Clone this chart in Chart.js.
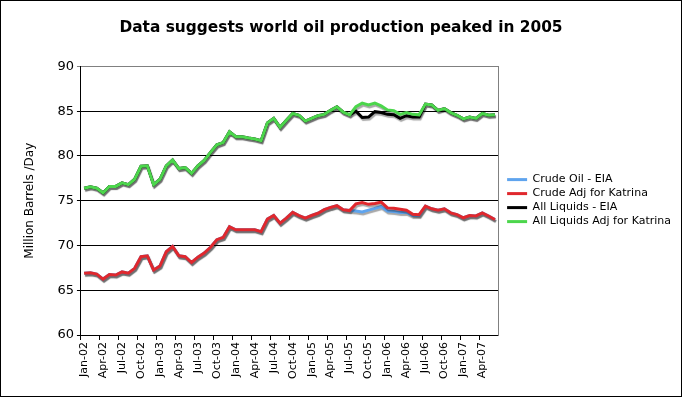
<!DOCTYPE html>
<html>
<head>
<meta charset="utf-8">
<script src="https://cdn.jsdelivr.net/npm/chart.js@4"></script>
<style>
  body { margin: 0; background: #fff; }
  #wrap { width: 682px; height: 397px; box-sizing: border-box; border: 1px solid #000; }
</style>
</head>
<body>
<div id="wrap"><canvas id="chart" width="680" height="395"></canvas></div>
<script>
// categories: Jan-02 .. Jun-07, monthly
const monthNames = ['Jan', 'Feb', 'Mar', 'Apr', 'May', 'Jun', 'Jul', 'Aug', 'Sep', 'Oct', 'Nov', 'Dec'];
const years = ['02', '03', '04', '05', '06', '07'];
const lastMonthIndex = 5; // Jun-07
const months = [];
years.forEach((y, yi) => {
  monthNames.forEach((m, mi) => {
    if (yi < years.length - 1 || mi <= lastMonthIndex) months.push(m + '-' + y);
  });
});

const crudeAdj = [
  66.9, 66.95, 66.8, 66.25, 66.75, 66.7, 67.05, 66.9, 67.45, 68.75,
  68.85, 67.25, 67.7, 69.3, 69.9, 68.85, 68.75, 68.1, 68.7, 69.15,
  69.8, 70.65, 70.9, 72.1, 71.75, 71.75, 71.75, 71.75, 71.55, 72.95,
  73.35, 72.5, 73.05, 73.7, 73.35, 73.05, 73.35, 73.6, 74.0, 74.25,
  74.45, 74.0, 73.9, 74.65, 74.8, 74.6, 74.7, 74.85, 74.2, 74.15,
  74.05, 73.95, 73.5, 73.45, 74.4, 74.1, 73.95, 74.1, 73.65, 73.45,
  73.1, 73.35, 73.3, 73.65, 73.3, 72.9
];
const crudeEIA = [
  66.9, 66.95, 66.8, 66.25, 66.75, 66.7, 67.05, 66.9, 67.45, 68.75,
  68.85, 67.25, 67.7, 69.3, 69.9, 68.85, 68.75, 68.1, 68.7, 69.15,
  69.8, 70.65, 70.9, 72.1, 71.75, 71.75, 71.75, 71.75, 71.55, 72.95,
  73.35, 72.5, 73.05, 73.7, 73.35, 73.05, 73.35, 73.6, 74.0, 74.25,
  74.45, 74.0, 73.9, 73.85, 73.75, 73.95, 74.15, 74.35, 73.85, 73.8,
  73.7, 73.7, 73.35, 73.35, 74.4, 74.1, 73.95, 74.1, 73.65, 73.45,
  73.1, 73.35, 73.3, 73.65, 73.3, 72.9
];
const liquidsAdj = [
  76.4, 76.55, 76.4, 75.9, 76.6, 76.6, 77.0, 76.8, 77.4, 78.85,
  78.9, 76.8, 77.4, 78.9, 79.55, 78.6, 78.7, 78.05, 78.9, 79.5,
  80.4, 81.25, 81.5, 82.7, 82.15, 82.15, 82.0, 81.9, 81.7, 83.7,
  84.2, 83.2, 84.0, 84.75, 84.55, 83.9, 84.2, 84.5, 84.65, 85.1,
  85.5, 84.9, 84.6, 85.5, 85.9, 85.7, 85.9, 85.6, 85.15, 85.05,
  84.65, 84.85, 84.65, 84.6, 85.8, 85.7, 85.1, 85.3, 84.85, 84.55,
  84.15, 84.35, 84.2, 84.75, 84.55, 84.6
];
const liquidsEIA = [
  76.4, 76.55, 76.4, 75.9, 76.6, 76.6, 77.0, 76.8, 77.4, 78.85,
  78.9, 76.8, 77.4, 78.9, 79.55, 78.6, 78.7, 78.05, 78.9, 79.5,
  80.4, 81.25, 81.5, 82.7, 82.15, 82.15, 82.0, 81.9, 81.7, 83.7,
  84.2, 83.2, 84.0, 84.75, 84.55, 83.9, 84.2, 84.5, 84.65, 85.1,
  85.5, 84.9, 84.6, 85.0, 84.3, 84.35, 84.95, 84.85, 84.65, 84.6,
  84.2, 84.5, 84.35, 84.35, 85.8, 85.7, 85.1, 85.3, 84.85, 84.55,
  84.15, 84.35, 84.2, 84.75, 84.55, 84.6
];

const FONT = 'DejaVu Sans';

// excel-like drop shadow under each line
const lineShadow = {
  id: 'lineShadow',
  beforeDatasetDraw(chart) {
    const ctx = chart.ctx;
    ctx.save();
    ctx.shadowColor = 'rgba(0,0,0,0.35)';
    ctx.shadowOffsetX = 1;
    ctx.shadowOffsetY = 2;
    ctx.shadowBlur = 1;
  },
  afterDatasetDraw(chart) {
    chart.ctx.restore();
  }
};

function series(label, data, color, order) {
  return {
    label: label,
    data: data,
    borderColor: color,
    backgroundColor: color,
    borderWidth: 3,
    pointRadius: 0,
    tension: 0,
    fill: false,
    order: order
  };
}

new Chart(document.getElementById('chart'), {
  type: 'line',
  data: {
    labels: months,
    datasets: [
      series('Crude Oil - EIA', crudeEIA, '#5fa4ee', 4),
      series('Crude Adj for Katrina', crudeAdj, '#e0282d', 3),
      series('All Liquids - EIA', liquidsEIA, '#000000', 2),
      series('All Liquids Adj for Katrina', liquidsAdj, '#4cd64c', 1)
    ]
  },
  options: {
    responsive: false,
    animation: false,
    layout: { padding: { left: 0, right: 0, bottom: 15, top: 0 } },
    plugins: {
      title: {
        display: true,
        text: 'Data suggests world oil production peaked in 2005',
        color: '#000',
        font: { family: FONT, size: 15.4, weight: 'bold' },
        padding: { top: 18, bottom: 29 }
      },
      legend: {
        position: 'right',
        maxWidth: 200,
        title: { display: true, text: ' ', padding: 0, font: { family: FONT, size: 16 } },
        labels: {
          color: '#000',
          font: { family: FONT, size: 11 },
          usePointStyle: true,
          pointStyle: 'line',
          pointStyleWidth: 20,
          padding: 3,
          sort: (a, b) => a.datasetIndex - b.datasetIndex
        }
      },
      tooltip: { enabled: false }
    },
    scales: {
      x: {
        offset: true,
        grid: {
          offset: true,
          drawOnChartArea: false,
          drawTicks: true,
          tickLength: 5,
          color: ctx => (ctx.index % 3 === 0 ? '#000' : 'rgba(0,0,0,0)')
        },
        border: { color: '#000', width: 1 },
        ticks: {
          autoSkip: false,
          maxRotation: 90,
          minRotation: 90,
          color: '#000',
          font: { family: FONT, size: 11 },
          padding: 2,
          callback: function (v, i) { return i % 3 === 0 ? this.getLabelForValue(v) : ''; }
        }
      },
      y: {
        min: 60,
        max: 90,
        ticks: { stepSize: 5, color: '#000', font: { family: FONT, size: 13 }, padding: 3 },
        grid: {
          color: ctx => (ctx.tick && ctx.tick.value === 90 ? '#808080' : '#000'),
          tickLength: 4,
          drawTicks: true
        },
        border: { color: '#000', width: 1 },
        title: {
          display: true,
          text: 'Million Barrels /Day',
          color: '#000',
          font: { family: FONT, size: 12 },
          padding: { top: 22, bottom: 17 }
        }
      },
      // empty right axis: gray right edge of the plot, gap before the legend
      yRight: {
        position: 'right',
        display: true,
        ticks: { display: false },
        grid: { display: false },
        border: { color: '#808080', width: 1 },
        afterFit: scale => { scale.width = 6; }
      }
    }
  },
  plugins: [lineShadow]
});
</script>
</body>
</html>
